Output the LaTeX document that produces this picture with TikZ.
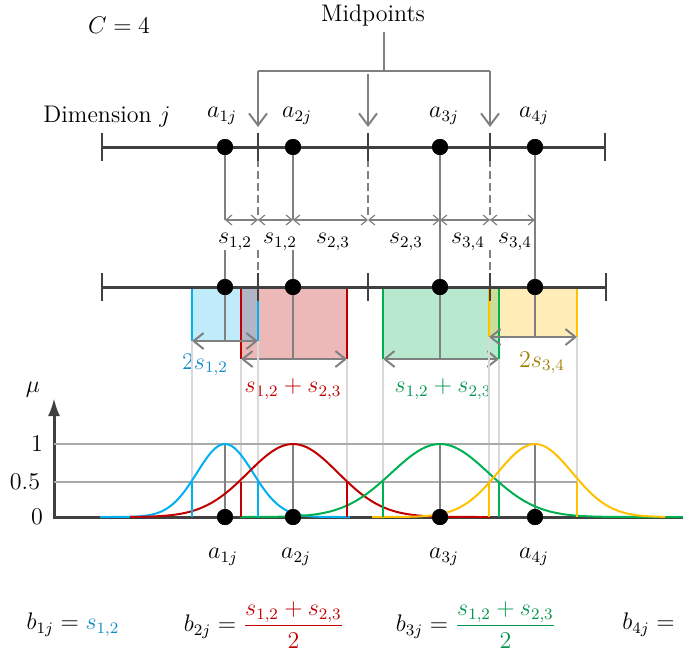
\documentclass[tikz,border=0pt,12pt]{standalone}
\usepackage{amsmath}
\usepackage{xcolor}
\usetikzlibrary{arrows.meta,calc}
\definecolor{cblue}{RGB}{0,176,240}
\definecolor{tblue}{RGB}{20,140,200}
\definecolor{cred}{RGB}{192,0,0}
\definecolor{cgreen}{RGB}{0,176,80}
\definecolor{tgreen}{RGB}{0,150,75}
\definecolor{cyellow}{RGB}{255,192,0}
\definecolor{tyellow}{RGB}{160,128,0}
\definecolor{axisgray}{RGB}{64,64,64}
\definecolor{linegray}{RGB}{128,128,128}
\definecolor{lvlgray}{RGB}{170,170,170}
\definecolor{guidegray}{RGB}{217,217,217}

\begin{document}
\begin{tikzpicture}[x=0.5pt,y=-0.5pt,font=\normalsize,
  dot/.style={circle,fill=black,inner sep=0pt,minimum size=8pt},
  ax/.style={axisgray,line width=1.5pt},
  tk/.style={axisgray,line width=1.2pt},
  g/.style={linegray,line width=1pt},
  dsh/.style={linegray,line width=1pt,dash pattern=on 4pt off 2pt},
  dim/.style={linegray,line width=0.6pt,
    {Straight Barb[length=3pt,width=5pt]}-{Straight Barb[length=3pt,width=5pt]}},
  wid/.style={linegray,line width=1pt,
    {Straight Barb[length=5pt,width=8pt]}-{Straight Barb[length=5pt,width=8pt]}},
  mid/.style={linegray,line width=1pt,-{Straight Barb[length=6pt,width=9pt]}},
  guide/.style={guidegray,line width=1pt},
  lvl/.style={lvlgray,line width=0.8pt},
  edge/.style={line width=1pt}]
\useasboundingbox (0,0) rectangle (683,660);

\node (cval) at (119,25) {$C=4$};
\node (mid) at (373,15) {Midpoints};
\node (dimj) at (107,117) {Dimension $j$};

\coordinate (tl) at (102,147);
\coordinate (tr) at (605,147);
\coordinate (tm1) at (258,147);
\coordinate (tm2) at (368,147);
\coordinate (tm3) at (490,147);
\coordinate (bl) at (102,287);
\coordinate (br) at (606,287);
\coordinate (bm1) at (258,287);
\coordinate (bm2) at (368,287);
\coordinate (bm3) at (490,287);

\coordinate (ms) at (384,32);
\coordinate (mj) at (384,71);
\coordinate (ml) at (258,71);
\coordinate (mr) at (490,71);
\draw[g] (ms) -- (mj);
\draw[g] (ml) -- (mr);
\draw[mid] (ml) -- ($(tm1)+(0,-20)$);
\draw[mid] ($(tm2)+(0,-73)$) -- ($(tm2)+(0,-20)$);
\draw[mid] (mr) -- ($(tm3)+(0,-20)$);

\node (la1) at (222,116) {$a_{1j}$};
\node (la2) at (297,116) {$a_{2j}$};
\node (la3) at (444,116) {$a_{3j}$};
\node (la4) at (534,116) {$a_{4j}$};

% row of half distances
\coordinate (d1) at (225,220);
\coordinate (dm1) at (258,220);
\coordinate (d2) at (293,220);
\coordinate (dm2) at (368,220);
\coordinate (d3) at (440,220);
\coordinate (dm3) at (490,220);
\coordinate (d4) at (535,220);
\coordinate (e1) at (225,250);
\coordinate (em1) at (258,250);
\coordinate (e2) at (293,250);
\coordinate (em3) at (490,250);

% boxes below the second axis
\coordinate (bb1) at (192,341);
\coordinate (bb2) at (258,341);
\coordinate (rb1) at (241,359);
\coordinate (rb2) at (347,359);
\coordinate (gb1) at (383,359);
\coordinate (gb2) at (499,359);
\coordinate (yb1) at (489,337);
\coordinate (yb2) at (577,337);
\fill[cred,opacity=0.28] (rb1) rectangle (rb2 |- bl);
\fill[cblue,opacity=0.25] (bb1) rectangle (bb2 |- bl);
\fill[cgreen,opacity=0.28] (gb1) rectangle (gb2 |- bl);
\fill[cyellow,opacity=0.28] (yb1) rectangle (yb2 |- bl);
\draw[cred,edge] (rb1) -- (rb1 |- bl) (rb2) -- (rb2 |- bl);
\draw[cblue,edge] (bb1) -- (bb1 |- bl) (bb2) -- (bb2 |- bl);
\draw[cgreen,edge] (gb1) -- (gb1 |- bl) (gb2) -- (gb2 |- bl);
\draw[cyellow,edge] (yb1) -- (yb1 |- bl) (yb2) -- (yb2 |- bl);

\node[dot] (t1) at (225,147) {};
\node[dot] (t2) at (293,147) {};
\node[dot] (t3) at (440,147) {};
\node[dot] (t4) at (535,147) {};
\node[dot] (b1) at (225,287) {};
\node[dot] (b2) at (293,287) {};
\node[dot] (b3) at (440,287) {};
\node[dot] (b4) at (535,287) {};

\draw[g] (t1) -- (d1);
\draw[g] (e1) -- (b1.center) -- (b1 |- bb1);
\draw[g] (t2) -- (d2);
\draw[g] (e2) -- (b2.center) -- (b2 |- rb1);
\draw[g] (t3) -- (b3.center) -- (b3 |- gb1);
\draw[g] (t4) -- (b4.center) -- (b4 |- yb1);
\draw[dsh] (tm1) -- (dm1);
\draw[dsh] (em1) -- (bm1);
\draw[dsh] (tm2) -- ($(dm2)+(0,-3)$);
\draw[dsh] (tm3) -- (dm3);
\draw[dsh] (em3) -- (bm3);

\draw[ax] (tl) -- (tr);
\draw[ax] (bl) -- (br);
\draw[tk] ($(tl)+(0,-14)$) -- ($(tl)+(0,14)$) ($(tr)+(0,-14)$) -- ($(tr)+(0,14)$)
  ($(tm1)+(0,-14)$) -- ($(tm1)+(0,14)$) ($(tm2)+(0,-14)$) -- ($(tm2)+(0,14)$)
  ($(tm3)+(0,-14)$) -- ($(tm3)+(0,14)$);
\draw[tk] ($(bl)+(0,-14)$) -- ($(bl)+(0,14)$) ($(br)+(0,-14)$) -- ($(br)+(0,14)$)
  ($(bm1)+(0,-14)$) -- ($(bm1)+(0,14)$) ($(bm2)+(0,-14)$) -- ($(bm2)+(0,14)$)
  ($(bm3)+(0,-14)$) -- ($(bm3)+(0,14)$);
\node[dot] at (t1) {};
\node[dot] at (t2) {};
\node[dot] at (t3) {};
\node[dot] at (t4) {};
\node[dot] at (b1) {};
\node[dot] at (b2) {};
\node[dot] at (b3) {};
\node[dot] at (b4) {};

\draw[dim] (d1) -- (dm1);
\draw[dim] (dm1) -- (d2);
\draw[dim] (d2) -- (dm2);
\draw[dim] (dm2) -- (d3);
\draw[dim] (d3) -- (dm3);
\draw[dim] (dm3) -- (d4);
\node (l1) at (235,242) {$s_{1,2}$};
\node (l2) at (280,242) {$s_{1,2}$};
\node (l3) at (333,242) {$s_{2,3}$};
\node (l4) at (406,242) {$s_{2,3}$};
\node (l5) at (468,242) {$s_{3,4}$};
\node (l6) at (515,242) {$s_{3,4}$};

\draw[wid] (bb1) -- (bb2);
\draw[wid] (rb1) -- (rb2);
\draw[wid] (gb1) -- (gb2);
\draw[wid] (yb1) -- (yb2);
\node[text=tblue] (wb) at (205,365) {$2s_{1,2}$};
\node[text=cred] (wr) at (293,389) {$s_{1,2}+s_{2,3}$};
\node[text=tgreen] (wg) at (443,389) {$s_{1,2}+s_{2,3}$};
\node[text=tyellow] (wy) at (542,363) {$2s_{3,4}$};

% membership graph
\coordinate (g0) at (54,517);
\coordinate (gx) at (683,517);
\coordinate (gy) at (54,398);
\coordinate (h1) at (54,444);
\coordinate (h5) at (54,482);
\node (mu) at (33,390) {$\mu$};
\node (n1) at (37,444) {1};
\node (n5) at (25,482) {0.5};
\node (n0) at (37,517) {0};

\draw[guide] (bb1) -- (bb1 |- h5) (bb2) -- (bb2 |- h5);
\draw[guide] (rb1) -- (rb1 |- h5) (rb2) -- (rb2 |- h5);
\draw[guide] (gb1) -- (gb1 |- h5) (gb2) -- (gb2 |- h5);
\draw[guide] (yb1) -- (yb1 |- h5) (yb2) -- (yb2 |- h5);

\draw[ax,{Latex[length=9pt,width=6pt]}-] (gy) -- (g0) -- (gx);
\draw[lvl] (h1) -- (h1 -| t4);
\draw[lvl] (h5) -- (h5 -| yb2);

\node[dot] (g1) at (225,517) {};
\node[dot] (g2) at (293,517) {};
\node[dot] (g3) at (440,517) {};
\node[dot] (g4) at (535,517) {};
\draw[g] (g1) -- (g1 |- h1);
\draw[g] (g2) -- (g2 |- h1);
\draw[g] (g3) -- (g3 |- h1);
\draw[g] (g4) -- (g4 |- h1);

\draw[cblue,edge] plot[domain=100:350,samples=90,smooth] (\x,{517-73*exp(-0.693*((\x-225)/33)^2)});
\draw[cred,edge] plot[domain=130:490,samples=90,smooth] (\x,{517-73*exp(-0.693*((\x-293)/53)^2)});
\draw[cgreen,edge] plot[domain=240:683,samples=110,smooth] (\x,{517-73*exp(-0.693*((\x-440)/57)^2)});
\draw[cyellow,edge] plot[domain=372:665,samples=90,smooth] (\x,{517-73*exp(-0.693*((\x-535)/44)^2)});
\draw[cblue,edge] (bb1 |- h5) -- (bb1 |- g0) (bb2 |- h5) -- (bb2 |- g0);
\draw[cred,edge] (rb1 |- h5) -- (rb1 |- g0) (rb2 |- h5) -- (rb2 |- g0);
\draw[cgreen,edge] (gb1 |- h5) -- (gb1 |- g0) (gb2 |- h5) -- (gb2 |- g0);
\draw[cyellow,edge] (yb1 |- h5) -- (yb1 |- g0) (yb2 |- h5) -- (yb2 |- g0);
\node[dot] at (g1) {};
\node[dot] at (g2) {};
\node[dot] at (g3) {};
\node[dot] at (g4) {};

\node (ga1) at (223,557) {$a_{1j}$};
\node (ga2) at (296,557) {$a_{2j}$};
\node (ga3) at (444,557) {$a_{3j}$};
\node (ga4) at (534,557) {$a_{4j}$};

\node (f1) at (73,625) {$b_{1j}={\color{tblue}s_{1,2}}$};
\node (f2) at (264,625) {$b_{2j}={\color{cred}\dfrac{s_{1,2}+s_{2,3}}{2}}$};
\node (f3) at (476,625) {$b_{3j}={\color{tgreen}\dfrac{s_{1,2}+s_{2,3}}{2}}$};
\node[anchor=west] (f4) at (614,625) {$b_{4j}=$};
\end{tikzpicture}
\end{document}
